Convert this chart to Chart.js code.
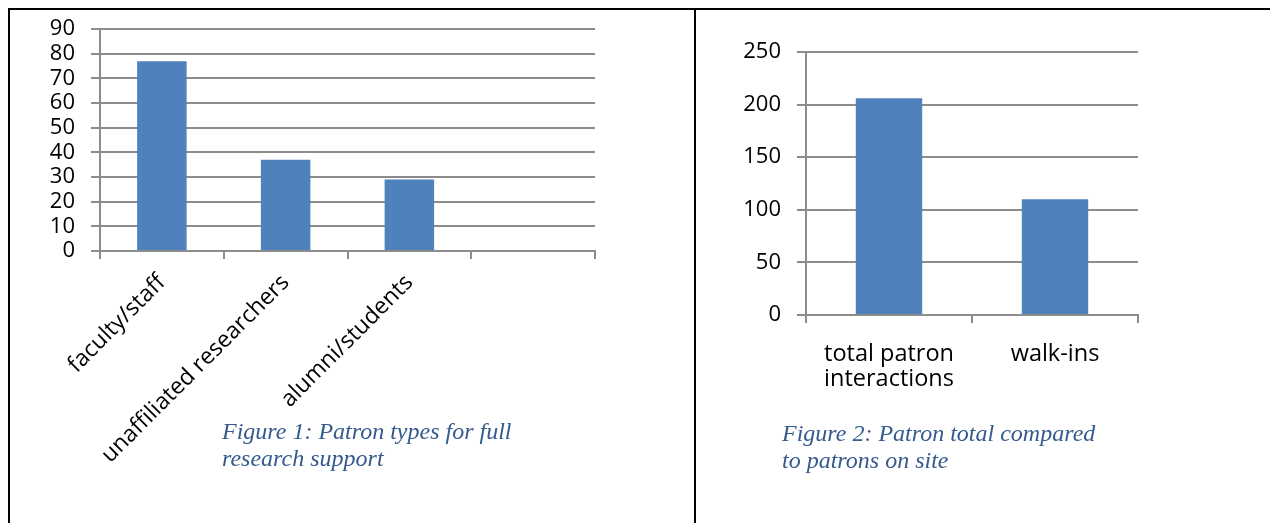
<!DOCTYPE html>
<html>
<head>
<meta charset="utf-8">
<script src="https://cdn.jsdelivr.net/npm/chart.js@4"></script>
<style>
  body { margin: 0; background: #fff; width: 1270px; height: 523px; position: relative; overflow: hidden; }
  .line { position: absolute; background: #000; }
  .box { position: absolute; }
  .caption {
    position: absolute;
    font-family: "Liberation Serif", "Times New Roman", serif;
    font-style: italic;
    font-size: 24px;
    line-height: 27px;
    color: #345a8e;
  }
</style>
</head>
<body>
<div class="line" style="left:8px; top:8px; width:1262px; height:2px;"></div>
<div class="line" style="left:8px; top:8px; width:2px; height:515px;"></div>
<div class="line" style="left:694px; top:8px; width:2px; height:515px;"></div>

<div class="box" style="left:20px; top:0px; width:600px; height:480px;"><canvas id="patronTypes"></canvas></div>
<div class="box" style="left:700px; top:0px; width:560px; height:430px;"><canvas id="patronTotal"></canvas></div>

<div class="caption" style="left:222px; top:418px;">Figure 1: Patron types for full<br>research support</div>
<div class="caption" style="left:782px; top:420px;">Figure 2: Patron total compared<br>to patrons on site</div>

<script>
// Figure 1 data
const typeLabels = ['faculty/staff', 'unaffiliated researchers', 'alumni/students', ''];
const typeCounts = [77, 37, 29, null];
const typeMax = 90;
const typeStep = 10;

// Figure 2 data
const totalLabels = [['total patron', 'interactions'], 'walk-ins'];
const totalCounts = [206, 110];
const totalMax = 250;
const totalStep = 50;

const barBlue = '#4f81bd';
const gridGray = '#8c8c8c';
const fontFamily = '"Open Sans", "Noto Sans", sans-serif';

function barOptions(max, step, pad, yWidth, xHeight, rotate) {
  return {
    responsive: true,
    maintainAspectRatio: false,
    animation: false,
    layout: { padding: pad },
    plugins: { legend: { display: false }, tooltip: { enabled: false } },
    scales: {
      x: {
        offset: true,
        grid: { offset: true, drawOnChartArea: false, color: gridGray, lineWidth: 2, tickLength: 8 },
        border: { color: gridGray, width: 2 },
        ticks: {
          color: '#000',
          font: { family: fontFamily, size: rotate ? 23 : 23.5, lineHeight: 1.1 },
          padding: rotate ? 11 : 18,
          minRotation: rotate ? 45 : 0,
          maxRotation: rotate ? 45 : 0,
          autoSkip: false
        },
        afterFit: (scale) => { scale.height = xHeight; }
      },
      y: {
        min: 0,
        max: max,
        ticks: { stepSize: step, color: '#000', font: { family: fontFamily, size: 22 }, padding: 16, autoSkip: false },
        grid: { color: gridGray, lineWidth: 2, tickLength: 9 },
        border: { color: gridGray, width: 2 },
        afterFit: (scale) => { scale.width = yWidth; }
      }
    }
  };
}

new Chart(document.getElementById('patronTypes'), {
  type: 'bar',
  data: {
    labels: typeLabels,
    datasets: [{ data: typeCounts, backgroundColor: barBlue, barPercentage: 0.4, categoryPercentage: 1 }]
  },
  options: barOptions(typeMax, typeStep, { top: 29, left: 0, right: 25, bottom: 0 }, 80, 229, true)
});

new Chart(document.getElementById('patronTotal'), {
  type: 'bar',
  data: {
    labels: totalLabels,
    datasets: [{ data: totalCounts, backgroundColor: barBlue, barPercentage: 0.4, categoryPercentage: 1 }]
  },
  options: barOptions(totalMax, totalStep, { top: 52, left: 0, right: 122, bottom: 0 }, 106, 115, false)
});
</script>
</body>
</html>
